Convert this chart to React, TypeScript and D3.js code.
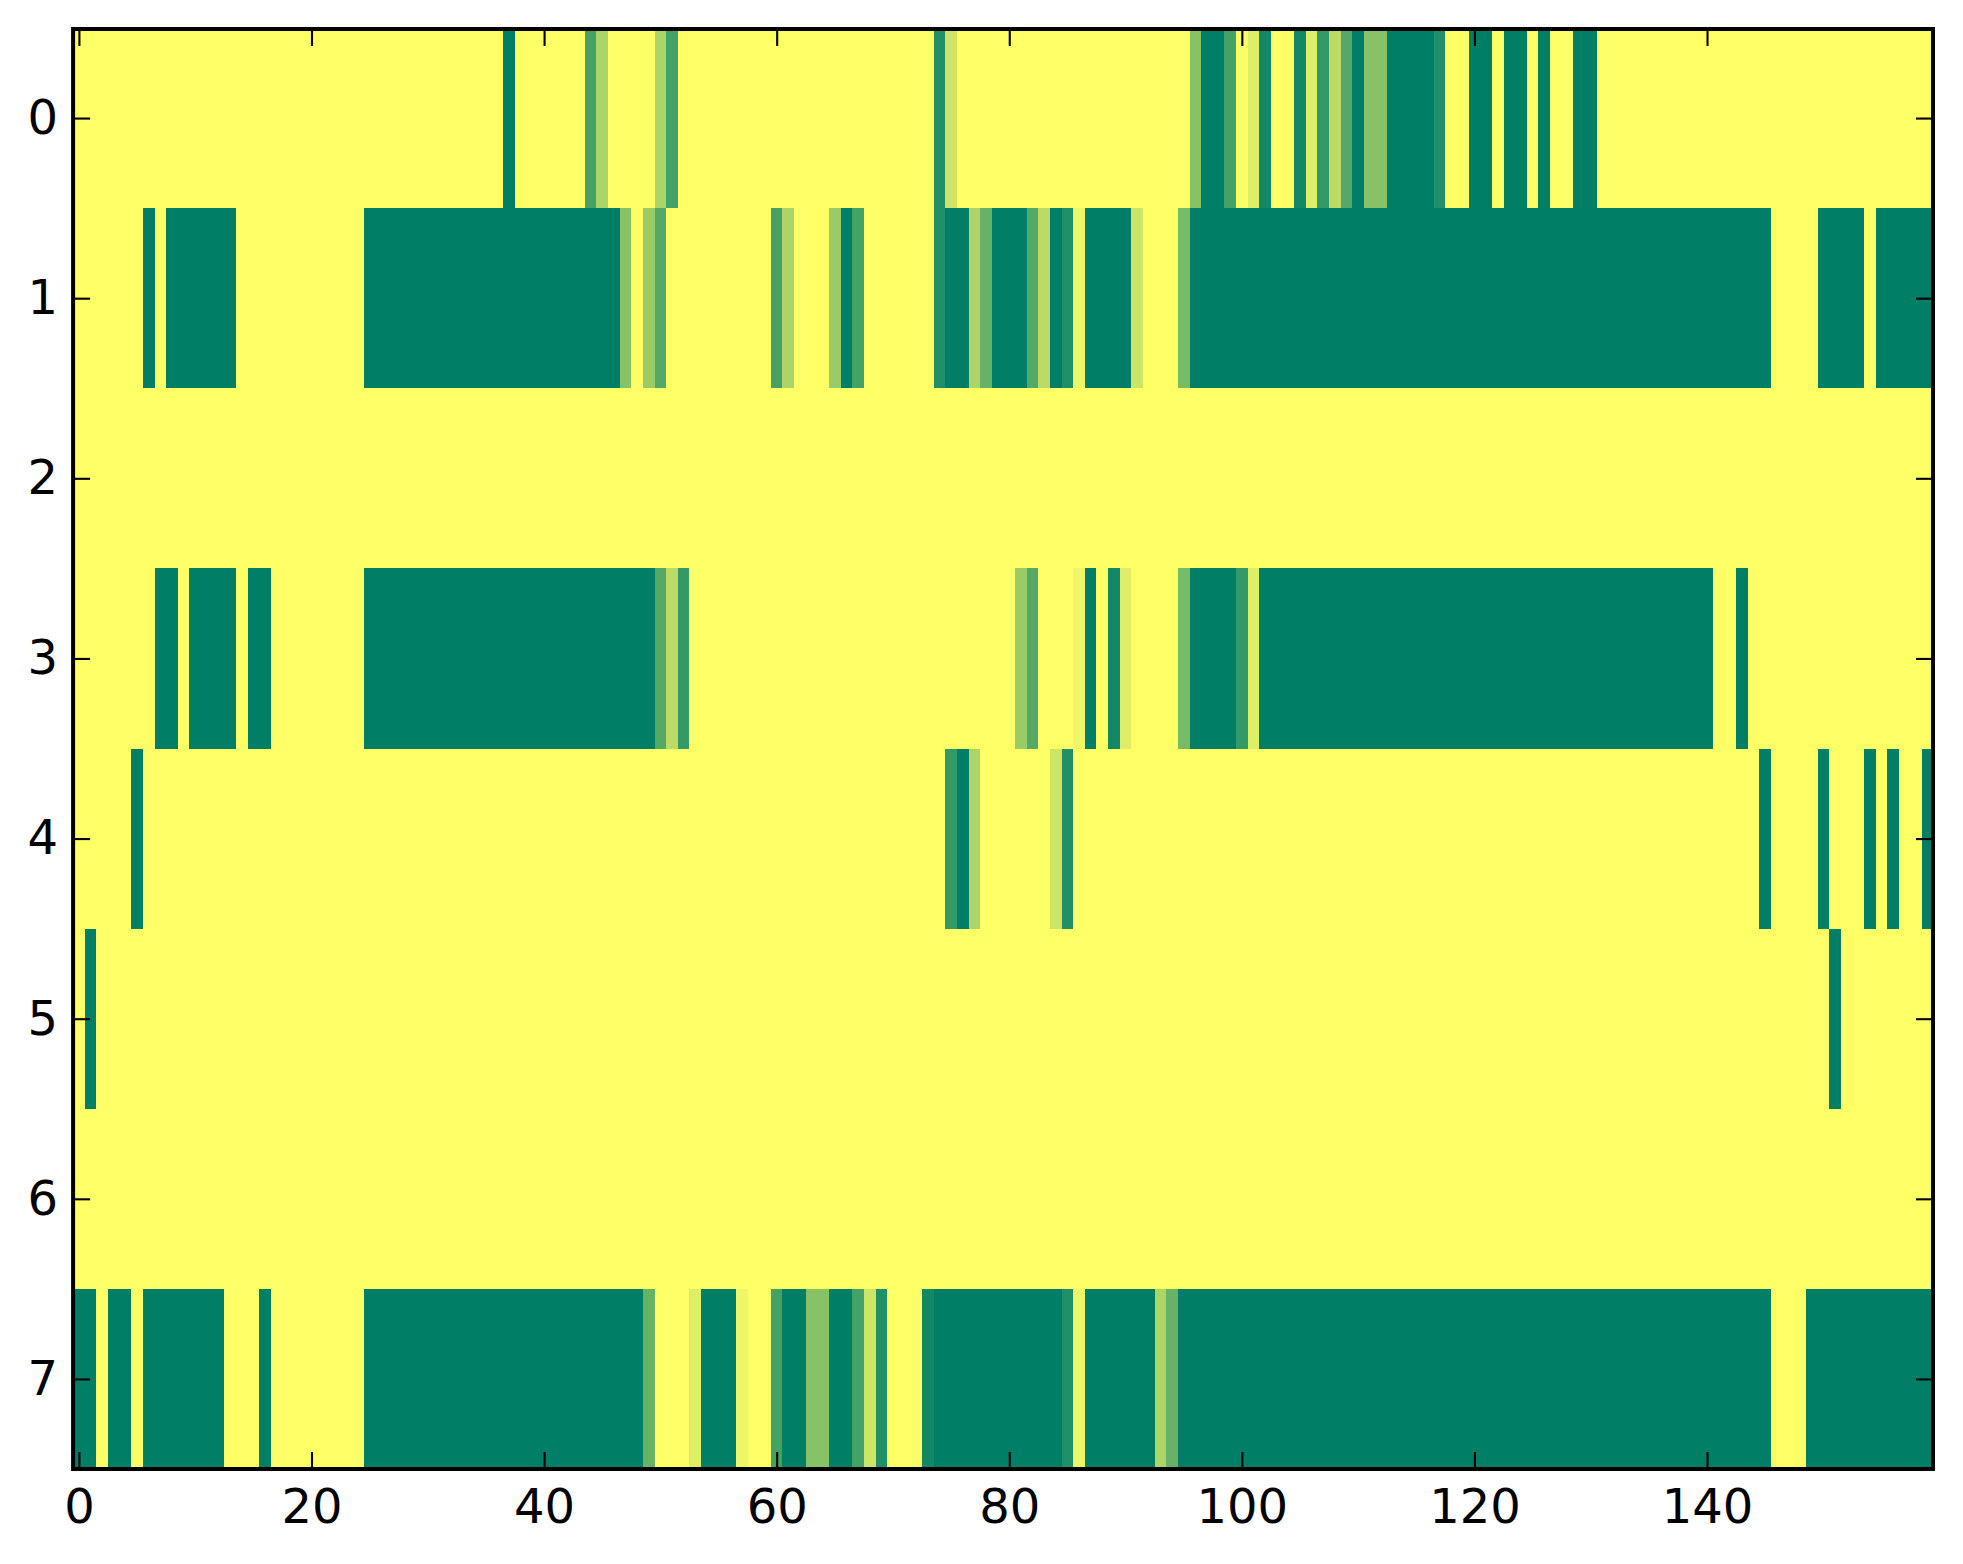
// Heatmap of 8 rows by 160 columns, drawn with D3 scales and axes
import React, { useEffect, useRef } from 'react';
import * as d3 from 'd3';

// Each run is [first column, last column, value]; anything not listed is 0
type Run = [number, number, number];

const row0: Run[] = [
  [37, 37, 1], [44, 44, 0.73], [45, 45, 0.33], [50, 50, 0.33], [51, 51, 0.73], [74, 74, 0.87], [75, 75, 0.2],
  [96, 96, 0.47], [97, 98, 1], [99, 99, 0.73], [101, 101, 0.13], [102, 102, 0.93], [105, 105, 0.93], [106, 106, 0.13],
  [107, 107, 0.8], [108, 108, 0.27], [109, 109, 0.67], [110, 110, 1], [111, 112, 0.47], [113, 116, 1], [117, 117, 0.87],
  [120, 121, 1], [123, 124, 1], [126, 126, 1], [129, 130, 1],
];
const row1: Run[] = [
  [6, 6, 1], [8, 13, 1], [25, 46, 1], [47, 47, 0.47], [49, 49, 0.4], [50, 50, 0.67], [60, 60, 0.73], [61, 61, 0.33],
  [65, 65, 0.4], [66, 66, 1], [67, 67, 0.73], [74, 74, 0.87], [75, 76, 1], [77, 77, 0.33], [78, 78, 0.6], [79, 81, 1],
  [82, 82, 0.67], [83, 83, 0.27], [84, 84, 1], [85, 85, 0.87], [86, 86, 0.07], [87, 90, 1], [91, 91, 0.2], [95, 95, 0.53],
  [96, 145, 1], [150, 153, 1], [155, 159, 1],
];
const row2: Run[] = [];
const row3: Run[] = [
  [7, 8, 1], [10, 13, 1], [15, 16, 1], [25, 49, 1], [50, 50, 0.67], [51, 51, 0.27], [52, 52, 0.8], [81, 81, 0.4],
  [82, 82, 0.67], [86, 86, 0.07], [87, 87, 1], [89, 89, 0.93], [90, 90, 0.13], [95, 95, 0.53], [96, 99, 1], [100, 100, 0.8],
  [101, 101, 0.13], [102, 140, 1], [143, 143, 1],
];
const row4: Run[] = [
  [5, 5, 1], [75, 75, 0.8], [76, 76, 1], [77, 77, 0.33], [84, 84, 0.2], [85, 85, 0.87], [145, 145, 1], [150, 150, 1],
  [154, 154, 1], [156, 156, 1], [159, 159, 1],
];
const row5: Run[] = [[1, 1, 1], [151, 151, 1]];
const row6: Run[] = [];
const row7: Run[] = [
  [0, 1, 1], [3, 4, 1], [6, 12, 1], [16, 16, 1], [25, 48, 1], [49, 49, 0.6], [53, 53, 0.13], [54, 56, 1], [57, 57, 0.07],
  [60, 60, 0.73], [61, 62, 1], [63, 64, 0.47], [65, 66, 1], [67, 67, 0.73], [68, 68, 0.2], [69, 69, 0.87], [73, 73, 0.93],
  [74, 84, 1], [85, 85, 0.87], [86, 86, 0.07], [87, 92, 1], [93, 93, 0.33], [94, 94, 0.6], [95, 145, 1], [149, 159, 1],
];

const rows = [row0, row1, row2, row3, row4, row5, row6, row7];
const columnCount = 160;
const xTicks = [0, 20, 40, 60, 80, 100, 120, 140];
const yTicks = [0, 1, 2, 3, 4, 5, 6, 7];

const App: React.FC = () => {
  const svgRef = useRef<SVGSVGElement | null>(null);

  useEffect(() => {
    const svg = d3.select(svgRef.current);
    svg.selectAll('*').remove();

    const left = 73.1;
    const right = 1933.8;
    const top = 28;
    const bottom = 1469;

    // Continuous scales put the cell centres on integers, as an image plot does
    const x = d3.scaleLinear().domain([-0.5, 159.5]).range([left, right]);
    const y = d3.scaleLinear().domain([-0.5, 7.5]).range([top, bottom]);
    const color = d3.scaleLinear<string>().domain([0, 1]).range(['#ffff66', '#007f66']);

    svg.append('rect')
      .attr('x', left).attr('y', top)
      .attr('width', right - left).attr('height', bottom - top)
      .attr('fill', color(0));

    // Expand the runs into single cells
    const cells = rows.flatMap((runs, row) =>
      runs.flatMap(([start, end, value]) =>
        d3.range(start, Math.min(end, columnCount - 1) + 1).map(col => ({ row, col, value }))
      )
    );

    svg.append('g')
      .attr('shape-rendering', 'crispEdges')
      .selectAll('rect')
      .data(cells)
      .join('rect')
      .attr('x', d => x(d.col - 0.5))
      .attr('y', d => y(d.row - 0.5))
      .attr('width', d => x(d.col + 0.5) - x(d.col - 0.5))
      .attr('height', d => y(d.row + 0.5) - y(d.row - 0.5))
      .attr('fill', d => color(d.value));

    const tickLength = 17;
    const axes = [
      { axis: d3.axisBottom(x).tickValues(xTicks).tickSize(-tickLength).tickPadding(20), at: `translate(0,${bottom})` },
      { axis: d3.axisTop(x).tickValues(xTicks).tickSize(-tickLength).tickFormat(() => ''), at: `translate(0,${top + 1})` },
      { axis: d3.axisLeft(y).tickValues(yTicks).tickSize(-tickLength).tickPadding(15), at: `translate(${left},0)` },
      { axis: d3.axisRight(y).tickValues(yTicks).tickSize(-tickLength).tickFormat(() => ''), at: `translate(${right - 0.8},0)` },
    ];

    axes.forEach(({ axis, at }) => {
      const g = svg.append('g').attr('transform', at).call(axis as any);
      g.select('.domain').remove();
      g.selectAll('.tick line').attr('stroke', '#000').attr('stroke-width', 2.1);
      g.selectAll('.tick text')
        .attr('fill', '#000')
        .attr('font-family', '"DejaVu Sans"')
        .attr('font-size', 48);
    });

    // Frame goes on last so it sits above the cells
    svg.append('rect')
      .attr('x', left).attr('y', top + 1)
      .attr('width', right - 0.8 - left).attr('height', bottom - top - 1)
      .attr('fill', 'none')
      .attr('stroke', '#000')
      .attr('stroke-width', 4);
  }, []);

  return (
    <svg
      ref={svgRef}
      width={1963}
      height={1564}
      style={{ position: 'absolute', left: 0, top: 0, display: 'block', background: '#fff' }}
    />
  );
};

export default App;
